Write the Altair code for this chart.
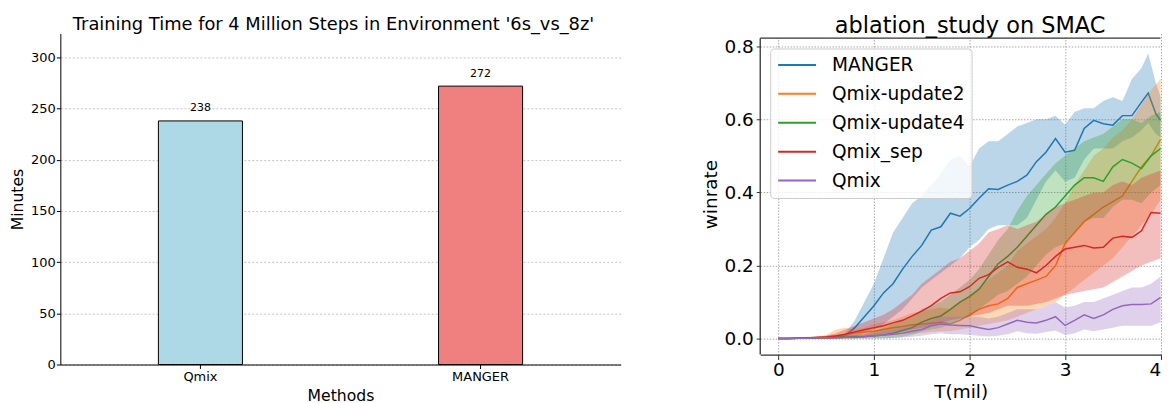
import altair as alt
import pandas as pd

# ---------------- left panel data ----------------
methods = ["Qmix", "MANGER"]
minutes = [238, 272]
bar_colors = ["#add8e6", "#f08080"]
y_ticks_left = [0, 50, 100, 150, 200, 250, 300]

# ---------------- right panel data ----------------
t_mil = [0.0, 0.1, 0.2, 0.3, 0.4, 0.5, 0.6, 0.7, 0.8, 0.9,
         1.0, 1.1, 1.2, 1.3, 1.4, 1.5, 1.6, 1.7, 1.8, 1.9,
         2.0, 2.1, 2.2, 2.3, 2.4, 2.5, 2.6, 2.7, 2.8, 2.9,
         3.0, 3.1, 3.2, 3.3, 3.4, 3.5, 3.6, 3.7, 3.8, 3.9, 4.0]
# MANGER has two extra readings around its late peak
manger_t = [0.0, 0.1, 0.2, 0.3, 0.4, 0.5, 0.6, 0.7, 0.8, 0.9,
            1.0, 1.1, 1.2, 1.3, 1.4, 1.5, 1.6, 1.7, 1.8, 1.9,
            2.0, 2.1, 2.2, 2.3, 2.4, 2.5, 2.6, 2.7, 2.8, 2.9,
            3.0, 3.1, 3.2, 3.3, 3.4, 3.5, 3.6, 3.7, 3.8, 3.87, 3.95, 4.0]

series_names = ["MANGER", "Qmix-update2", "Qmix-update4", "Qmix_sep", "Qmix"]
series_colors = ["#1f77b4", "#ff7f0e", "#2ca02c", "#d62728", "#9467bd"]

manger_mean = [0, 0, 0.001, 0.001, 0.002, 0.003, 0.004, 0.008, 0.03, 0.06,
               0.09, 0.125, 0.15, 0.19, 0.225, 0.255, 0.297, 0.306, 0.343, 0.335,
               0.356, 0.384, 0.41, 0.408, 0.42, 0.43, 0.447, 0.484, 0.51, 0.547,
               0.51, 0.515, 0.575, 0.597, 0.588, 0.584, 0.61, 0.61, 0.647, 0.672, 0.615, 0.597]
manger_hi = [0, 0.001, 0.002, 0.003, 0.004, 0.005, 0.007, 0.015, 0.05, 0.1,
             0.15, 0.22, 0.29, 0.33, 0.37, 0.39, 0.42, 0.45, 0.49, 0.5,
             0.47, 0.52, 0.54, 0.54, 0.56, 0.58, 0.59, 0.6, 0.6, 0.61,
             0.585, 0.62, 0.63, 0.63, 0.65, 0.66, 0.65, 0.71, 0.74, 0.78, 0.7, 0.66]
manger_lo = [0, 0, 0, 0, 0, 0, 0.001, 0.002, 0.005, 0.015,
             0.025, 0.04, 0.06, 0.08, 0.11, 0.14, 0.16, 0.18, 0.2, 0.22,
             0.25, 0.27, 0.3, 0.31, 0.31, 0.31, 0.33, 0.38, 0.43, 0.46,
             0.43, 0.44, 0.49, 0.52, 0.52, 0.52, 0.54, 0.55, 0.57, 0.59, 0.56, 0.55]

upd2_mean = [0, 0, 0.001, 0.002, 0.003, 0.005, 0.008, 0.01, 0.015, 0.018,
             0.02, 0.025, 0.03, 0.033, 0.038, 0.04, 0.042, 0.045, 0.04, 0.05,
             0.065, 0.08, 0.09, 0.095, 0.11, 0.14, 0.15, 0.16, 0.17, 0.2,
             0.26, 0.29, 0.32, 0.34, 0.36, 0.375, 0.39, 0.43, 0.47, 0.5, 0.545]
upd2_hi = [0, 0.001, 0.003, 0.004, 0.006, 0.01, 0.025, 0.03, 0.025, 0.03,
           0.04, 0.045, 0.05, 0.06, 0.07, 0.075, 0.08, 0.085, 0.08, 0.1,
           0.12, 0.14, 0.16, 0.18, 0.2, 0.24, 0.26, 0.28, 0.3, 0.33,
           0.37, 0.42, 0.46, 0.5, 0.52, 0.55, 0.57, 0.6, 0.64, 0.68, 0.71]
upd2_lo = [0, 0, 0, 0, 0, 0, 0, 0, 0.002, 0.004,
           0.005, 0.008, 0.01, 0.012, 0.014, 0.015, 0.018, 0.02, 0.02, 0.025,
           0.03, 0.035, 0.04, 0.045, 0.05, 0.06, 0.07, 0.08, 0.09, 0.1,
           0.12, 0.14, 0.16, 0.18, 0.2, 0.22, 0.25, 0.28, 0.31, 0.34, 0.38]

upd4_mean = [0, 0, 0.001, 0.002, 0.002, 0.003, 0.003, 0.004, 0.005, 0.006,
             0.008, 0.01, 0.015, 0.022, 0.03, 0.045, 0.055, 0.062, 0.08, 0.1,
             0.115, 0.135, 0.17, 0.205, 0.225, 0.25, 0.28, 0.31, 0.34, 0.36,
             0.39, 0.42, 0.44, 0.44, 0.43, 0.47, 0.49, 0.48, 0.465, 0.5, 0.52]
upd4_hi = [0, 0.001, 0.003, 0.005, 0.006, 0.007, 0.008, 0.009, 0.01, 0.012,
           0.02, 0.03, 0.04, 0.05, 0.06, 0.08, 0.09, 0.1, 0.12, 0.14,
           0.16, 0.19, 0.23, 0.27, 0.3, 0.35, 0.39, 0.42, 0.45, 0.48,
           0.5, 0.52, 0.54, 0.55, 0.56, 0.58, 0.6, 0.6, 0.59, 0.61, 0.62]
upd4_lo = [0, 0, 0, 0, 0, 0, 0, 0, 0, 0,
           0, 0, 0.002, 0.005, 0.01, 0.02, 0.025, 0.03, 0.04, 0.05,
           0.06, 0.08, 0.1, 0.12, 0.13, 0.15, 0.17, 0.2, 0.23, 0.25,
           0.26, 0.29, 0.32, 0.33, 0.33, 0.36, 0.38, 0.38, 0.37, 0.4, 0.42]

sep_mean = [0, 0, 0.001, 0.002, 0.003, 0.004, 0.007, 0.012, 0.018, 0.024,
            0.03, 0.035, 0.043, 0.05, 0.062, 0.075, 0.09, 0.11, 0.125, 0.128,
            0.142, 0.165, 0.175, 0.195, 0.21, 0.195, 0.19, 0.18, 0.2, 0.225,
            0.245, 0.25, 0.255, 0.248, 0.25, 0.275, 0.28, 0.277, 0.295, 0.345, 0.343]
sep_hi = [0, 0.001, 0.002, 0.004, 0.006, 0.008, 0.015, 0.025, 0.035, 0.045,
          0.055, 0.065, 0.08, 0.1, 0.12, 0.15, 0.17, 0.19, 0.21, 0.22,
          0.24, 0.26, 0.29, 0.3, 0.31, 0.3, 0.31, 0.32, 0.34, 0.36,
          0.37, 0.38, 0.39, 0.4, 0.4, 0.42, 0.43, 0.42, 0.44, 0.45, 0.46]
sep_lo = [0, 0, 0, 0, 0, 0, 0.001, 0.002, 0.005, 0.008,
          0.01, 0.012, 0.015, 0.02, 0.025, 0.03, 0.035, 0.042, 0.05, 0.055,
          0.06, 0.065, 0.07, 0.08, 0.09, 0.09, 0.09, 0.095, 0.1, 0.11,
          0.12, 0.125, 0.13, 0.135, 0.14, 0.155, 0.17, 0.185, 0.2, 0.21, 0.22]

qmix_mean = [0, 0, 0.001, 0.001, 0.002, 0.002, 0.002, 0.003, 0.003, 0.005,
             0.008, 0.01, 0.012, 0.015, 0.02, 0.025, 0.035, 0.04, 0.037, 0.036,
             0.035, 0.03, 0.025, 0.03, 0.04, 0.05, 0.045, 0.043, 0.05, 0.06,
             0.036, 0.05, 0.065, 0.055, 0.065, 0.08, 0.09, 0.093, 0.093, 0.095, 0.113]
qmix_hi = [0, 0.001, 0.002, 0.003, 0.004, 0.004, 0.005, 0.006, 0.008, 0.011,
           0.015, 0.02, 0.025, 0.03, 0.035, 0.04, 0.05, 0.06, 0.06, 0.06,
           0.06, 0.06, 0.055, 0.06, 0.07, 0.08, 0.08, 0.08, 0.09, 0.1,
           0.085, 0.09, 0.1, 0.1, 0.11, 0.12, 0.13, 0.14, 0.14, 0.15, 0.17]
qmix_lo = [0, 0, 0, 0, 0, 0, 0, 0, 0, 0,
           0, 0.001, 0.002, 0.003, 0.005, 0.008, 0.012, 0.015, 0.012, 0.012,
           0.01, 0.008, 0.006, 0.008, 0.012, 0.02, 0.015, 0.013, 0.018, 0.022,
           0.01, 0.015, 0.025, 0.02, 0.025, 0.03, 0.035, 0.035, 0.035, 0.035, 0.045]

series_data = [
    (manger_t, manger_mean, manger_lo, manger_hi),
    (t_mil, upd2_mean, upd2_lo, upd2_hi),
    (t_mil, upd4_mean, upd4_lo, upd4_hi),
    (t_mil, sep_mean, sep_lo, sep_hi),
    (t_mil, qmix_mean, qmix_lo, qmix_hi),
]

FONT = "DejaVu Sans"

# ---------------- left: bar chart ----------------
bar_df = pd.DataFrame({"method": methods, "minutes": minutes, "fill": bar_colors})

x_bar = alt.X(
    "method:N", sort=methods,
    scale=alt.Scale(paddingInner=0.7, paddingOuter=0.35),
    axis=alt.Axis(title="Methods", labelAngle=0, labelFontSize=13, titleFontSize=15.7,
                  labelFont=FONT, titleFont=FONT, titleFontWeight="normal",
                  tickSize=4, labelPadding=2.2, titlePadding=4.4,
                  domainColor="black", tickColor="black", labelColor="black",
                  titleColor="black", grid=False),
)
y_bar = alt.Y(
    "minutes:Q",
    scale=alt.Scale(domain=[0, 323.4], nice=False),
    axis=alt.Axis(title="Minutes", values=y_ticks_left, labelFontSize=13, titleFontSize=15.7,
                  labelFont=FONT, titleFont=FONT, titleFontWeight="normal",
                  tickSize=4, labelPadding=1, titlePadding=5,
                  domainColor="black", tickColor="black", labelColor="black",
                  titleColor="black", grid=True, gridDash=[2, 2], gridColor="#c4c4c4",
                  gridWidth=1),
)

bars = alt.Chart(bar_df).mark_bar(stroke="black", strokeWidth=1).encode(
    x=x_bar, y=y_bar, fill=alt.Fill("fill:N", scale=None)
)
bar_text = alt.Chart(bar_df).mark_text(dy=-12.5, fontSize=11, font=FONT, color="black").encode(
    x=alt.X("method:N", sort=methods), y=alt.Y("minutes:Q"), text="minutes:Q"
)

left = alt.layer(bars, bar_text).properties(
    width=562, height=332,
    title=alt.TitleParams(text="Training Time for 4 Million Steps in Environment '6s_vs_8z'",
                          fontSize=17.9, fontWeight="normal", font=FONT, color="black",
                          anchor="middle", frame="group", offset=0, dx=-7),
)

# ---------------- right: line chart with bands ----------------
RW, RH = 402.1, 322
TOP_GAP = 4.7  # the frame of the right panel starts a little below the shared top
x_scale = alt.Scale(domain=[-0.19, 4.005], nice=False, zero=False)
y_scale = alt.Scale(domain=[-0.0436, 0.8346], nice=False, zero=False)
x_axis = alt.Axis(title="T(mil)", values=[0, 1, 2, 3, 4], format="d", labelFontSize=18.5,
                  titleFontSize=18.5, labelFont=FONT, titleFont=FONT, titleFontWeight="normal",
                  tickSize=5, labelPadding=1.4, titlePadding=3.4, domainColor="#333333",
                  tickColor="#333333", labelColor="black", titleColor="black",
                  domainWidth=1.3, grid=True, gridDash=[1.5, 1.5], gridColor="#a8a8a8",
                  labelFlush=3)
y_axis = alt.Axis(title="winrate", values=[0, 0.2, 0.4, 0.6, 0.8], format=".1f",
                  labelFontSize=18.5, titleFontSize=18.5, labelFont=FONT, titleFont=FONT,
                  titleFontWeight="normal", tickSize=4, labelPadding=3, titlePadding=3,
                  domain=False, tickColor="#333333", labelColor="black",
                  titleColor="black", grid=True, gridDash=[1.5, 1.5],
                  gridColor="#a8a8a8")

legend = alt.Legend(title=None, orient="none", legendX=10, legendY=15,
                    symbolType="stroke", symbolSize=1444, symbolStrokeWidth=2,
                    clipHeight=19, rowPadding=9, labelOffset=15, labelFontSize=18.6,
                    labelFont=FONT, labelColor="black", padding=7, labelLimit=400,
                    fillColor="rgba(255,255,255,0.8)", strokeColor="#cccccc",
                    cornerRadius=4)

layers = []
for name, col, (ts, mean, lo, hi) in zip(series_names, series_colors, series_data):
    df = pd.DataFrame({"t": ts, "mean": mean, "lo": lo, "hi": hi, "series": name})
    band = alt.Chart(df).mark_area(opacity=0.3, color=col).encode(
        x=alt.X("t:Q", scale=x_scale, axis=x_axis),
        y=alt.Y("lo:Q", scale=y_scale, axis=y_axis),
        y2="hi:Q",
    )
    line = alt.Chart(df).mark_line(strokeWidth=1.5).encode(
        x=alt.X("t:Q", scale=x_scale, axis=x_axis),
        y=alt.Y("mean:Q", scale=y_scale, axis=y_axis),
        color=alt.Color("series:N", scale=alt.Scale(domain=series_names, range=series_colors),
                        legend=legend),
    )
    layers += [band, line]

frame_df = pd.DataFrame({"s": [0]})
top_mask = alt.Chart(frame_df).mark_rect(color="white").encode(
    x=alt.value(0), x2=alt.value(RW), y=alt.value(0), y2=alt.value(TOP_GAP - 0.5)
)
top_spine = alt.Chart(frame_df).mark_rule(color="#333333", strokeWidth=1.3).encode(
    x=alt.value(0), x2=alt.value(RW - 0.7), y=alt.value(TOP_GAP)
)
left_spine = alt.Chart(frame_df).mark_rule(color="#333333", strokeWidth=1.3).encode(
    x=alt.value(0), y=alt.value(TOP_GAP), y2=alt.value(RH)
)
layers += [top_mask, top_spine, left_spine]

right = alt.layer(*layers).properties(
    width=RW, height=RH,
    title=alt.TitleParams(text="ablation_study on SMAC", fontSize=22.5, fontWeight="normal",
                          font=FONT, color="black", anchor="middle", frame="group",
                          offset=-3.5, dx=9.5),
)

chart = alt.hconcat(left, right, spacing=81).resolve_scale(
    color="independent"
).resolve_legend(color="independent").properties(
    padding={"left": 1.5, "top": 6, "right": 0, "bottom": 0},
    background="white",
).configure(font=FONT).configure_view(strokeWidth=0)

chart.save("out.html", embed_options={"renderer": "svg", "actions": False})
